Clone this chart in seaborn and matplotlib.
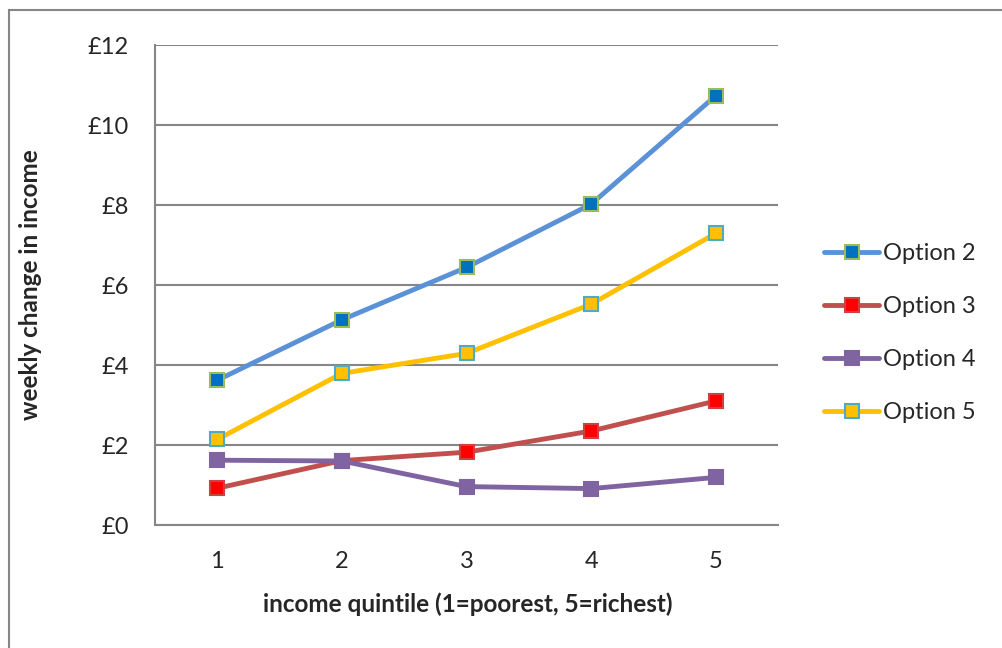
import matplotlib
matplotlib.use("Agg")
import matplotlib.pyplot as plt
from matplotlib.patches import Rectangle
from matplotlib.ticker import FixedLocator, FuncFormatter
import pandas as pd
import seaborn as sns

quintiles = [1, 2, 3, 4, 5]
option_2 = [3.62, 5.13, 6.44, 8.02, 10.73]
option_3 = [0.92, 1.61, 1.82, 2.35, 3.10]
option_4 = [1.62, 1.60, 0.96, 0.91, 1.19]
option_5 = [2.14, 3.79, 4.29, 5.52, 7.29]
series_names = ["Option 2", "Option 3", "Option 4", "Option 5"]
y_ticks = [0, 2, 4, 6, 8, 10, 12]

# line colour, marker face, marker edge
styles = {
    "Option 2": ("#5B92D7", "#0070C0", "#9BBB59"),
    "Option 3": ("#C0504D", "#FF0000", "#D04040"),
    "Option 4": ("#8064A2", "#8064A2", "#8064A2"),
    "Option 5": ("#FFC000", "#FFC000", "#4BACC6"),
}

df = pd.DataFrame({
    "quintile": quintiles * 4,
    "change": option_2 + option_3 + option_4 + option_5,
    "option": [n for n in series_names for _ in quintiles],
})

sns.set_style("white")
plt.rcParams["font.family"] = ["Lato", "DejaVu Sans"]

fig = plt.figure(figsize=(10.02, 6.48), dpi=100)
ax = fig.add_axes([155 / 1002, 1 - 525 / 648, 623 / 1002, 480 / 648])

for name in series_names:
    line_c, face_c, edge_c = styles[name]
    sns.lineplot(data=df[df["option"] == name], x="quintile", y="change",
                 ax=ax, color=line_c, linewidth=3.5, marker="s", markersize=10,
                 markerfacecolor=face_c, markeredgecolor=edge_c, markeredgewidth=1.5,
                 label=name, zorder=3)

ax.set_xlim(0.5, 5.5)
ax.set_ylim(0, 12)
ax.set_yticks(y_ticks)
ax.yaxis.set_major_formatter(FuncFormatter(lambda v, p: f"£{int(v)}"))
ax.set_xticks(quintiles)
ax.xaxis.set_minor_locator(FixedLocator([0.5, 1.5, 2.5, 3.5, 4.5, 5.5]))
ax.tick_params(axis="x", which="major", length=0, pad=19, labelsize=17)
ax.tick_params(axis="x", which="minor", length=6, width=1.5, color="#868686", direction="out")
ax.tick_params(axis="y", length=6, width=1.5, color="#868686", direction="out", pad=13, labelsize=17)
ax.grid(axis="y", color="#868686", linewidth=1.5)
ax.set_axisbelow(True)
for side in ["top", "right"]:
    ax.spines[side].set_visible(False)
for side in ["left", "bottom"]:
    ax.spines[side].set_color("#868686")
    ax.spines[side].set_linewidth(1.5)

ax.set_xlabel("income quintile (1=poorest, 5=richest)", fontsize=17.5, fontweight="bold")
ax.set_ylabel("weekly change in income", fontsize=17.5, fontweight="bold")
ax.xaxis.set_label_coords(0.502, -0.165)
ax.yaxis.set_label_coords(-0.2, 0.5)
ax.xaxis.label.set_va("center")
ax.yaxis.label.set_va("center")

ax.legend(loc="center left", bbox_to_anchor=(824 / 1002, 1 - 333 / 648), bbox_transform=fig.transFigure,
          frameon=False, fontsize=17, handlelength=2.35, handletextpad=0.15,
          labelspacing=1.36, borderaxespad=0, borderpad=0)

# outer chart border
fig.add_artist(Rectangle((9 / 1002, -0.1), 1.2, 1 - 10 / 648 + 0.1, transform=fig.transFigure,
                         fill=False, edgecolor="#868686", linewidth=1.5))

fig.savefig("out.png", dpi=100)
